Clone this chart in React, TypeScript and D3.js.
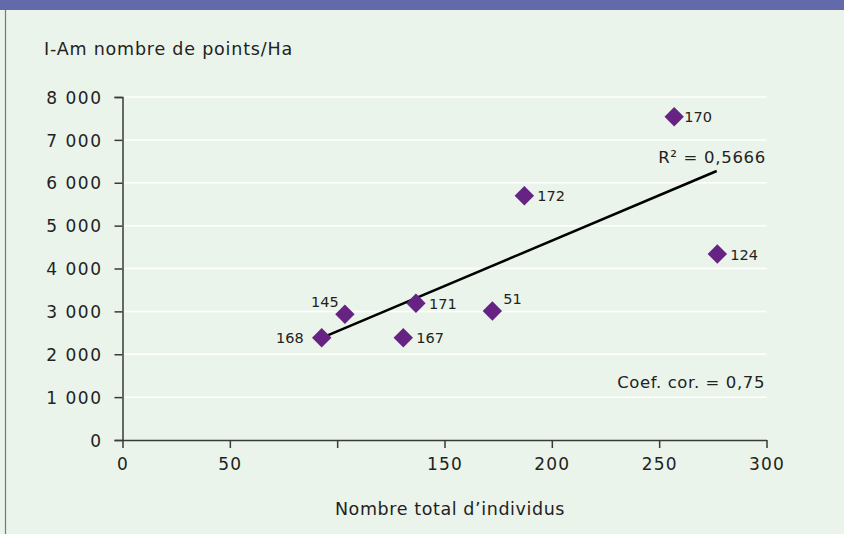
import { useEffect, useRef } from "react"
import * as d3 from "d3"

// Sample plots: id, total individuals, I-Am points/ha
const plotIds = ["168", "145", "171", "167", "172", "51", "170", "124"]
const totalIndividus = [92.8, 103.6, 136.7, 130.8, 187.2, 172.3, 257.0, 277.1]
const pointsHa = [2386, 2932, 3188, 2386, 5698, 3009, 7541, 4338]

// trend line as drawn (ends at min and max x)
const trendX = [92.8, 276.8]
const trendY = [2380, 6274]

const yTicks = [0, 1000, 2000, 3000, 4000, 5000, 6000, 7000, 8000]
const xTicks = [0, 50, 100, 150, 200, 250, 300]
const xTickLabels = ["0", "50", "", "150", "200", "250", "300"]

const yTitle = "I-Am nombre de points/Ha"
const xTitle = "Nombre total d\u2019individus"
const r2Label = "R\u00b2 = 0,5666"
const corLabel = "Coef. cor. = 0,75"

// where each point label sits relative to its marker
const labelPos: Record<string, string> = {
  "168": "left",
  "145": "aboveLeft",
  "171": "right",
  "167": "right",
  "172": "right",
  "51": "aboveRight",
  "170": "rightTight",
  "124": "right",
}

export default function App() {
  const svgRef = useRef<SVGSVGElement>(null)

  useEffect(() => {
    if (!svgRef.current) return
    document.body.style.margin = "0"

    const W = 844
    const H = 534
    const font = "'DejaVu Sans', sans-serif"
    const axisColor = "#3a3a3a"

    const svg = d3.select(svgRef.current)
    svg.selectAll("*").remove()

    // panel background
    svg.append("rect").attr("width", W).attr("height", H).attr("fill", "#eaf4eb")
    svg.append("rect").attr("width", W).attr("height", 10).attr("fill", "#636aab")
    svg.append("line")
      .attr("x1", 5.5).attr("x2", 5.5).attr("y1", 10).attr("y2", H)
      .attr("stroke", "#777").attr("stroke-width", 1.2)

    const x = d3.scaleLinear().domain([0, 300]).range([122.5, 766.5])
    const y = d3.scaleLinear().domain([0, 8000]).range([440, 97])

    // gridlines
    svg.append("g")
      .selectAll("line")
      .data(yTicks.filter((d) => d > 0))
      .enter()
      .append("line")
      .attr("x1", x(0)).attr("x2", x(300))
      .attr("y1", (d) => y(d)).attr("y2", (d) => y(d))
      .attr("stroke", "#ffffff").attr("stroke-width", 1.5)

    const fmt = (d: number) => (d >= 1000 ? `${Math.floor(d / 1000)} 000` : `${d}`)

    // y axis
    const yAxis = svg.append("g")
      .attr("transform", `translate(${x(0)},0)`)
      .call(d3.axisLeft(y).tickValues(yTicks).tickSize(8).tickPadding(12).tickFormat((d) => fmt(+d)))
    yAxis.select(".domain").attr("stroke", axisColor).attr("stroke-width", 1.5)
    yAxis.selectAll(".tick line").attr("stroke", axisColor).attr("stroke-width", 1.5)
    yAxis.selectAll("text")
      .attr("dy", "0.36em")
      .style("font-family", font).style("font-size", "17px")
      .style("letter-spacing", "1.5px").attr("fill", "#222")

    // x axis
    const xAxis = svg.append("g")
      .attr("transform", `translate(0,${y(0)})`)
      .call(d3.axisBottom(x).tickValues(xTicks).tickSize(8).tickPadding(10).tickSizeOuter(0)
        .tickFormat((_, i) => xTickLabels[i]))
    xAxis.select(".domain").attr("stroke", axisColor).attr("stroke-width", 1.5)
    xAxis.selectAll(".tick line").attr("stroke", axisColor).attr("stroke-width", 1.5)
    xAxis.selectAll("text")
      .style("font-family", font).style("font-size", "17px")
      .style("letter-spacing", "1.2px").attr("fill", "#222")

    // titles
    svg.append("text")
      .attr("x", 44).attr("y", 55)
      .style("font-family", font).style("font-size", "17.5px").style("letter-spacing", "0.8px")
      .attr("fill", "#222").text(yTitle)
    svg.append("text")
      .attr("x", 450).attr("y", 515).attr("text-anchor", "middle")
      .style("font-family", font).style("font-size", "17.5px").style("letter-spacing", "0.6px")
      .attr("fill", "#222").text(xTitle)

    // trend line
    const line = d3.line<number>().x((d) => x(d)).y((_, i) => y(trendY[i]))
    svg.append("path")
      .datum(trendX)
      .attr("d", line)
      .attr("fill", "none").attr("stroke", "#000").attr("stroke-width", 2.5)

    // diamonds
    const pts = plotIds.map((id, i) => ({ id, x: totalIndividus[i], y: pointsHa[i] }))
    svg.append("g")
      .selectAll("path")
      .data(pts)
      .enter()
      .append("path")
      .attr("transform", (d) => `translate(${x(d.x)},${y(d.y)})`)
      .attr("d", d3.symbol(d3.symbolDiamond2, 240)())
      .attr("fill", "#662383")

    // point labels
    svg.append("g")
      .selectAll("text")
      .data(pts)
      .enter()
      .append("text")
      .attr("x", (d) => {
        const p = labelPos[d.id]
        if (p === "left") return x(d.x) - 18
        if (p === "aboveLeft") return x(d.x) - 20
        if (p === "aboveRight") return x(d.x) + 11
        if (p === "rightTight") return x(d.x) + 10
        return x(d.x) + 13
      })
      .attr("y", (d) => {
        const p = labelPos[d.id]
        if (p === "aboveLeft" || p === "aboveRight") return y(d.y) - 7
        return y(d.y) + 5.5
      })
      .attr("text-anchor", (d) => {
        const p = labelPos[d.id]
        if (p === "left") return "end"
        if (p === "aboveLeft") return "middle"
        return "start"
      })
      .style("font-family", font).style("font-size", "14.5px")
      .attr("fill", "#222")
      .text((d) => d.id)

    // statistics
    svg.append("text")
      .attr("x", 766).attr("y", 163).attr("text-anchor", "end")
      .style("font-family", font).style("font-size", "16.5px").style("letter-spacing", "0.7px")
      .attr("fill", "#222").text(r2Label)
    svg.append("text")
      .attr("x", 765).attr("y", 388).attr("text-anchor", "end")
      .style("font-family", font).style("font-size", "16.5px").style("letter-spacing", "0.6px")
      .attr("fill", "#222").text(corLabel)
  }, [])

  return <svg ref={svgRef} width={844} height={534} style={{ display: "block" }}></svg>
}
